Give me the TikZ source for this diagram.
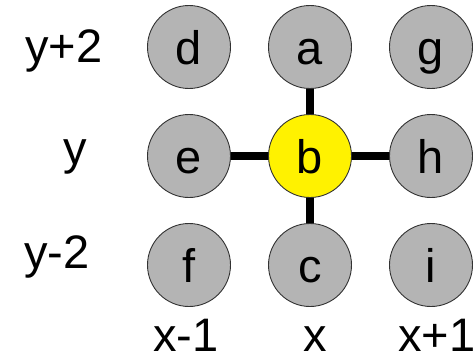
\documentclass[tikz,border=0pt]{standalone}
\usepackage{fontspec}
\setmainfont{Liberation Sans}
\definecolor{cellgray}{RGB}{180,180,180}
\definecolor{rimgray}{RGB}{50,50,50}
\begin{document}
\begin{tikzpicture}[x=1pt,y=-1pt,
  cell/.style={circle,draw=rimgray,line width=0.9pt,fill=cellgray,minimum size=83pt,inner sep=0pt,text height=34pt,text depth=0pt,font=\fontsize{47}{47}\selectfont},
  hub/.style={cell,fill=yellow},
  axis/.style={font=\fontsize{47}{47}\selectfont,inner sep=0pt,anchor=base},
  link/.style={line width=8pt}]
\useasboundingbox (0,0) rectangle (476,361);
\node[cell] (d) at (189,47) {d};
\node[cell] (a) at (310,47) {a};
\node[cell] (g) at (431,47) {g};
\node[cell] (e) at (189,156) {e};
\node[cell] (h) at (431,156) {h};
\node[cell] (f) at (189,265) {f};
\node[cell] (c) at (310,265) {c};
\node[cell] (i) at (431,265) {i};
\draw[link] (a) -- (c);
\draw[link] (e) -- (h);
\node[hub] (b) at (310,156) {b};
\node[axis] (ly2) at (64,63) {y+2};
\node[axis] (ly) at (75,164) {y};
\node[axis] (lym) at (57,268) {y-2};
\node[axis] (lxm) at (186,351) {x-1};
\node[axis] (lx) at (315,351) {x};
\node[axis] (lxp) at (437,351) {x+1};
\end{tikzpicture}
\end{document}
